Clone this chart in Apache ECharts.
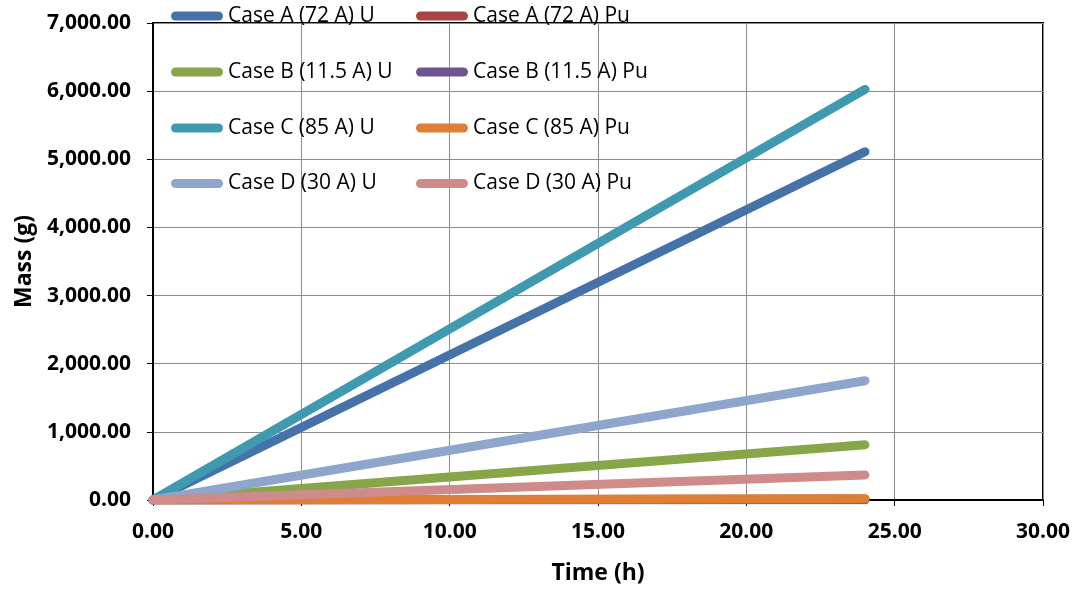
<!DOCTYPE html>
<html>
<head>
<meta charset="utf-8">
<script src="https://cdn.jsdelivr.net/npm/echarts@6/dist/echarts.min.js"></script>
<style>
  html, body { margin: 0; padding: 0; background: #fff; }
  #chart { width: 1086px; height: 590px; }
</style>
</head>
<body>
<div id="chart"></div>
<script>
// Deposited mass over a 24 h run for four electrorefining cases
const seriesNames = [
  'Case A (72 A) U', 'Case A (72 A) Pu',
  'Case B (11.5 A) U', 'Case B (11.5 A) Pu',
  'Case C (85 A) U', 'Case C (85 A) Pu',
  'Case D (30 A) U', 'Case D (30 A) Pu'
];
const timeHours = [0, 24];
const caseAU  = [0, 5110];
const caseAPu = [0, 15];
const caseBU  = [0, 810];
const caseBPu = [0, 3];
const caseCU  = [0, 6025];
const caseCPu = [0, 20];
const caseDU  = [0, 1750];
const caseDPu = [0, 368];
const seriesValues = [caseAU, caseAPu, caseBU, caseBPu, caseCU, caseCPu, caseDU, caseDPu];
const seriesColors = ['#4672AA', '#A94442', '#87A64A', '#6F5490', '#3F9AB0', '#DE7F35', '#8EA6CC', '#CF8A8A'];

const xMin = 0, xMax = 30, xStep = 5;
const yMin = 0, yMax = 7000, yStep = 1000;

const FONT = '"Open Sans", "Noto Sans", sans-serif';

function fmt2(v) {
  return Number(v).toLocaleString('en-US', { minimumFractionDigits: 2, maximumFractionDigits: 2 });
}

const series = seriesNames.map((name, i) => ({
  name: name,
  type: 'line',
  data: timeHours.map((t, k) => [t, seriesValues[i][k]]),
  showSymbol: false,
  symbol: 'none',
  lineStyle: { width: 9, color: seriesColors[i], cap: 'round', join: 'round' },
  itemStyle: { color: seriesColors[i] },
  animation: false,
  z: 2
}));

// legend laid out as two columns of four rows, overlapping the plot's top-left corner
const legendColX = [171, 416];
const legendRowCenter = [15.5, 71.5, 127.5, 183];
const pill = 'path://M4.5,0 L47.5,0 A4.5,4.5 0 0 1 47.5,9 L4.5,9 A4.5,4.5 0 0 1 4.5,0 Z';
const legends = seriesNames.map((name, i) => ({
  data: [name],
  orient: 'horizontal',
  left: legendColX[i % 2],
  top: legendRowCenter[Math.floor(i / 2)] - 10,
  padding: 0,
  icon: pill,
  itemWidth: 52,
  itemHeight: 9,
  selectedMode: false,
  textStyle: { fontFamily: FONT, fontSize: 21, color: '#000' }
}));

const chart = echarts.init(document.getElementById('chart'), null, { renderer: 'canvas' });
chart.setOption({
  backgroundColor: '#fff',
  animation: false,
  legend: legends,
  grid: {
    left: 153, right: 43, top: 23, bottom: 90,
    show: true, borderColor: '#000', borderWidth: 2, backgroundColor: 'transparent'
  },
  xAxis: {
    type: 'value',
    min: xMin, max: xMax, interval: xStep,
    name: 'Time (h)',
    nameLocation: 'middle',
    nameGap: 62,
    nameTextStyle: { fontFamily: FONT, fontSize: 23, fontWeight: 'bold', color: '#000' },
    axisLine: { show: true, onZero: false, lineStyle: { color: '#000', width: 2 } },
    axisTick: { show: true, inside: false, length: 6, lineStyle: { color: '#000', width: 1 } },
    axisLabel: {
      formatter: fmt2, margin: 22,
      fontFamily: FONT, fontSize: 21, fontWeight: 'bold', color: '#000'
    },
    splitLine: { show: true, lineStyle: { color: '#8c8c8c', width: 1 } }
  },
  yAxis: {
    type: 'value',
    min: yMin, max: yMax, interval: yStep,
    name: 'Mass (g)',
    nameLocation: 'middle',
    nameGap: 108,
    nameRotate: 90,
    nameTextStyle: { fontFamily: FONT, fontSize: 23, fontWeight: 'bold', color: '#000' },
    axisLine: { show: true, onZero: false, lineStyle: { color: '#000', width: 2 } },
    axisTick: { show: true, inside: false, length: 6, lineStyle: { color: '#000', width: 1 } },
    axisLabel: {
      formatter: fmt2, margin: 22,
      fontFamily: FONT, fontSize: 21, fontWeight: 'bold', color: '#000'
    },
    splitLine: { show: true, lineStyle: { color: '#8c8c8c', width: 1 } }
  },
  series: series
});
</script>
</body>
</html>
